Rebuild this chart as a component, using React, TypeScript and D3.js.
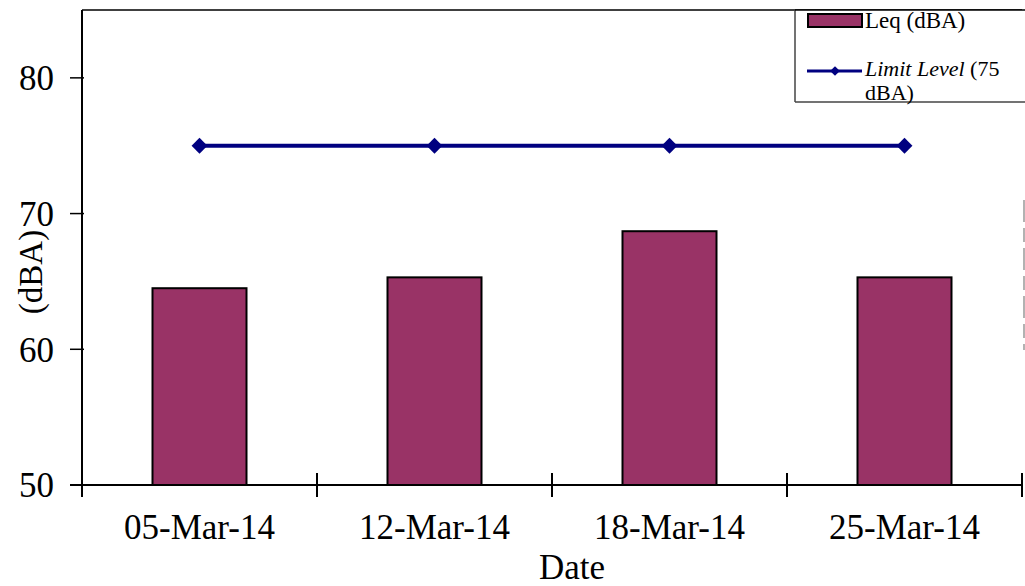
import React from "react";
import * as d3 from "d3";

const dates = ["05-Mar-14", "12-Mar-14", "18-Mar-14", "25-Mar-14"];
const leq = [64.5, 65.3, 68.7, 65.3];
const limit = [75, 75, 75, 75];
const yTicks = [50, 60, 70, 80];

const W = 1025;
const H = 586;
const m = { left: 82, right: 1022, top: 10, bottom: 485 };
const serif = "'Liberation Serif', 'Times New Roman', serif";

const App = () => {
  const x = d3.scaleBand().domain(dates).range([m.left, m.right]).paddingInner(0.6).paddingOuter(0.3);
  const band = d3.scaleBand().domain(dates).range([m.left, m.right]);
  const y = d3.scaleLinear().domain([50, 85]).range([m.bottom, m.top]);

  const line = d3
    .line<number>()
    .x((_, i) => (band(dates[i]) as number) + band.bandwidth() / 2)
    .y((d) => y(d));

  const diamond = d3.symbol().type(d3.symbolDiamond2).size(160)();

  const bounds = band.domain().map((d) => band(d) as number).concat([m.right]);

  return (
    <svg width={W} height={H} style={{ position: "absolute", left: 0, top: 0, background: "#fff" }} fontFamily={serif}>
      {/* frame */}
      <line x1={m.left} x2={m.right} y1={m.top} y2={m.top} stroke="#000" strokeWidth={1.5} />
      <line x1={1024} x2={1024} y1={200} y2={350} stroke="#999" strokeWidth={1.5} strokeDasharray="22 6 14 6" />

      {/* bars */}
      {leq.map((v, i) => (
        <rect
          key={i}
          x={x(dates[i])}
          y={y(v)}
          width={x.bandwidth()}
          height={y(50) - y(v)}
          fill="#993366"
          stroke="#000"
          strokeWidth={2}
        />
      ))}

      {/* limit line */}
      <path d={line(limit) || ""} fill="none" stroke="#000080" strokeWidth={4} />
      {limit.map((v, i) => (
        <path
          key={i}
          d={diamond || ""}
          transform={`translate(${(band(dates[i]) as number) + band.bandwidth() / 2},${y(v)})`}
          fill="#000080"
        />
      ))}

      {/* y axis */}
      <line x1={m.left} x2={m.left} y1={m.top} y2={m.bottom + 12} stroke="#000" strokeWidth={2} />
      {yTicks.map((t) => (
        <g key={t} transform={`translate(0,${y(t)})`}>
          <line x1={70} x2={m.left + 2} stroke="#000" strokeWidth={1.5} />
          <text x={54} dy="0.35em" textAnchor="end" fontSize={35} fill="#000">
            {t}
          </text>
        </g>
      ))}
      <text
        transform={`translate(30,${272}) rotate(-90)`}
        textAnchor="middle"
        fontSize={33}
        fill="#000"
        dy="0.35em"
      >
        (dBA)
      </text>

      {/* x axis */}
      <line x1={70} x2={m.right} y1={m.bottom} y2={m.bottom} stroke="#000" strokeWidth={2} />
      {bounds.map((b, i) => (
        <line key={i} x1={b} x2={b} y1={m.bottom - 12} y2={m.bottom + 12} stroke="#000" strokeWidth={2} />
      ))}
      {dates.map((d) => (
        <text
          key={d}
          x={(band(d) as number) + band.bandwidth() / 2}
          y={539}
          textAnchor="middle"
          fontSize={35}
          fill="#000"
        >
          {d}
        </text>
      ))}
      <text x={572} y={579} textAnchor="middle" fontSize={35} fill="#000">
        Date
      </text>

      {/* legend */}
      <g>
        <rect x={795} y={10} width={232} height={92} fill="#fff" stroke="none" />
        <line x1={795} x2={795} y1={10} y2={102} stroke="#444" strokeWidth={1.5} />
        <line x1={795} x2={1025} y1={102} y2={102} stroke="#444" strokeWidth={1.5} />
        <line x1={795} x2={1025} y1={10} y2={10} stroke="#000" strokeWidth={1.5} />
        <rect x={808} y={14} width={54} height={13} fill="#993366" stroke="#000" strokeWidth={2} />
        <text x={865} y={28} fontSize={23} fill="#000">
          Leq (dBA)
        </text>
        <line x1={807} x2={862} y1={71} y2={71} stroke="#000080" strokeWidth={3} />
        <path d={d3.symbol().type(d3.symbolDiamond2).size(60)() || ""} transform="translate(835,71)" fill="#000080" />
        <text x={865} y={76} fontSize={22} fill="#000">
          <tspan fontStyle="italic">Limit Level</tspan> (75
        </text>
        <text x={865} y={100} fontSize={22} fill="#000">
          dBA)
        </text>
      </g>
    </svg>
  );
};

export default App;
